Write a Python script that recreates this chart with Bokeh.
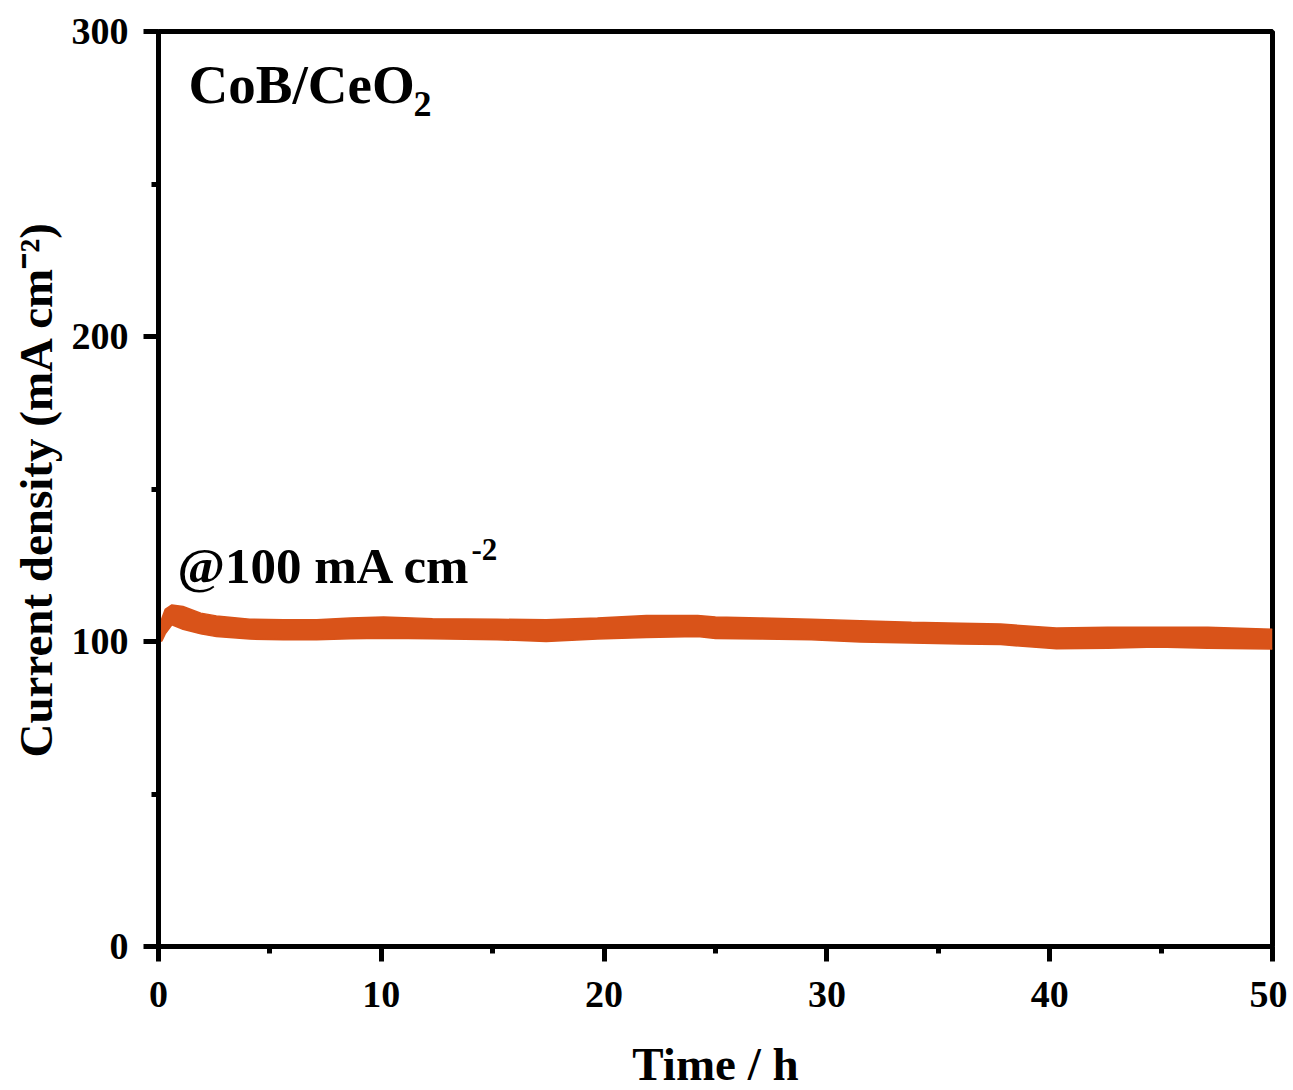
from bokeh.plotting import figure
from bokeh.models import Range1d, FixedTicker, Label
from bokeh.embed import file_html
from bokeh.resources import INLINE

# ---- data ----
time_h = [0.0, 0.15, 0.3, 0.6, 1.1, 1.9, 2.6, 4.1, 5.6, 7.1, 8.6, 10.1, 12.3, 15.2, 17.4,
          19.7, 21.9, 24.2, 25.0, 27.0, 29.3, 31.5, 33.8, 36.0, 37.8, 40.3, 42.6, 44.8, 47.1, 50.0]
upper = [104.0, 107.5, 110.5, 112.0, 111.5, 109.3, 108.4, 107.3, 107.1, 107.1, 107.7, 108.0, 107.5,
         107.3, 107.1, 107.7, 108.5, 108.5, 108.0, 107.7, 107.3, 106.8, 106.3, 106.0, 105.7,
         104.4, 104.7, 104.7, 104.7, 104.0]
lower = [100.0, 100.2, 102.5, 105.5, 104.0, 102.5, 101.6, 100.8, 100.6, 100.6, 100.9, 101.1, 100.9,
         100.6, 100.0, 100.8, 101.3, 101.6, 101.0, 100.8, 100.6, 99.8, 99.5, 99.2, 99.0,
         97.6, 97.8, 98.2, 97.8, 97.5]

x_major = [0, 10, 20, 30, 40, 50]
x_minor = [5, 15, 25, 35, 45]
y_major = [0, 100, 200, 300]
y_minor = [50, 150, 250]

FONT = "Liberation Serif"
COLOR = "#D95319"

p = figure(frame_width=1114, frame_height=915,
           min_border_left=158, min_border_right=15, min_border_top=31, min_border_bottom=144,
           x_range=Range1d(0, 50), y_range=Range1d(0, 300),
           output_backend="svg", toolbar_location=None)

p.varea(x=time_h, y1=lower, y2=upper, fill_color=COLOR, fill_alpha=1.0)
p.line(x=time_h, y=upper, line_color=COLOR, line_width=1.5)
p.line(x=time_h, y=lower, line_color=COLOR, line_width=1.5)

p.xgrid.visible = False
p.ygrid.visible = False
p.outline_line_color = "black"
p.outline_line_width = 5
p.background_fill_color = "white"
p.border_fill_color = "white"

p.xaxis.ticker = FixedTicker(ticks=x_major, minor_ticks=x_minor)
p.yaxis.ticker = FixedTicker(ticks=y_major, minor_ticks=y_minor)

for ax in (p.xaxis, p.yaxis):
    ax.axis_line_width = 5
    ax.axis_line_color = "black"
    ax.major_tick_line_width = 5
    ax.minor_tick_line_width = 5
    ax.major_tick_in = 0
    ax.major_tick_out = 15
    ax.minor_tick_in = 0
    ax.minor_tick_out = 7
    ax.major_label_text_font = FONT
    ax.major_label_text_font_style = "bold"
    ax.major_label_text_font_size = "38px"
    ax.major_label_text_color = "black"
    ax.axis_label_text_font = FONT
    ax.axis_label_text_font_style = "bold"
    ax.axis_label_text_font_size = "47px"
    ax.axis_label_text_color = "black"

p.xaxis.major_label_standoff = 20
p.yaxis.major_label_standoff = 15

# axis titles
p.yaxis.axis_label = "Current density (mA cm\u207b\u00b2)"
p.yaxis.axis_label_standoff = 7
p.xaxis.axis_label = "Time / h"
p.xaxis.axis_label_standoff = 28

# in-plot annotations
p.add_layout(Label(x=1.35, y=282.6, text="CoB/CeO", text_align="left",
                   text_baseline="alphabetic", text_font=FONT, text_font_style="bold",
                   text_font_size="55px", text_color="black"))
p.add_layout(Label(x=11.45, y=276.2, text="2", text_align="left",
                   text_baseline="alphabetic", text_font=FONT, text_font_style="bold",
                   text_font_size="36px", text_color="black"))

p.add_layout(Label(x=0.85, y=124.9, text="@100 mA cm", text_align="left",
                   text_baseline="alphabetic", text_font=FONT, text_font_style="bold",
                   text_font_size="51px", text_color="black"))
p.add_layout(Label(x=14.05, y=130.2, text="-2", text_align="left",
                   text_baseline="alphabetic", text_font=FONT, text_font_style="bold",
                   text_font_size="31px", text_color="black"))

open("out.html", "w").write(file_html(p, INLINE))
